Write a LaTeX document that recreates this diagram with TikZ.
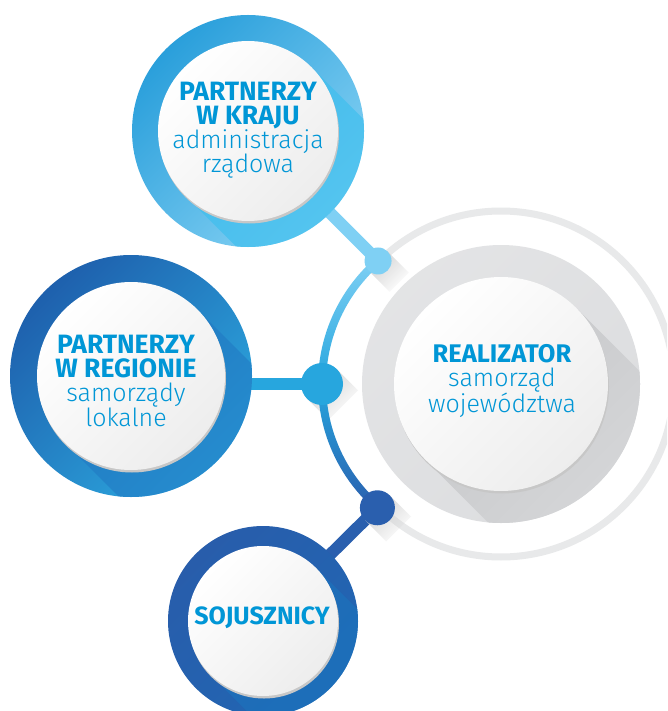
\documentclass[tikz,border=0pt]{standalone}
\usepackage{fontspec}
\setmainfont{Fira Sans}
\newfontfamily\thinfont{Fira Sans Light}
\usetikzlibrary{calc, fadings}

\definecolor{txtblue}{HTML}{0096D6}
\definecolor{krajDark}{HTML}{2A9FDB}
\definecolor{krajLight}{HTML}{86D2F4}
\definecolor{krajBand}{HTML}{3FBFEE}
\definecolor{regDark}{HTML}{1E60AD}
\definecolor{regLight}{HTML}{2CA8DF}
\definecolor{regBand}{HTML}{2179C3}
\definecolor{sojDark}{HTML}{285DAB}
\definecolor{sojLight}{HTML}{2166B3}
\definecolor{sojBand}{HTML}{1B74BE}
\definecolor{greyRing}{HTML}{DCDDDF}
\definecolor{greyBand}{HTML}{C6C7C9}
\definecolor{thinRing}{HTML}{E8E9EA}
\definecolor{arcTop}{HTML}{7FD0F4}
\definecolor{arcMid}{HTML}{27A6DE}
\definecolor{arcBot}{HTML}{2A5FAE}

\pgfdeclarelayer{bg}
\pgfdeclarelayer{links}
\pgfsetlayers{bg,links,main}

\begin{document}
\begin{tikzpicture}[x=1pt, y=-1pt,
    ringdisc/.style = {circle, inner sep=0pt, draw=none},
    face/.style = {circle, inner sep=0pt, top color=white, bottom color=black!7, shading angle=45},
    rim/.style = {fill=black!22},
    words/.style = {text=txtblue, align=center, font=\fontsize{25}{24}\selectfont},
    heavy/.style = {font=\fontsize{25}{24}\selectfont\bfseries},
    hubdot/.style = {circle, inner sep=0pt},
    link/.style = {line width=12pt},
    dotshadow/.style = {fill=black!18, path fading=south, fading angle=45}]

  \begin{pgfonlayer}{bg}
    \fill[white] (0,0) rectangle (667,711);
  \end{pgfonlayer}
  \useasboundingbox (0,0) rectangle (667,711);
  \clip (0,0) rectangle (667,711);

  % realizator
  \node[ringdisc, minimum size=278pt, top color=greyRing!80, bottom color=greyRing, shading angle=45] (real) at (501,384) {};
  \begin{scope}
    \clip (real) circle (139);
    \shade[top color=greyBand, bottom color=greyRing, shading angle=45]
      ($(real)+(-45:107)$) -- ($(real)+(135:107)$) -- ++(45:200) -- ($(real)+(-45:107)+(45:200)$) -- cycle;
  \end{scope}
  \fill[rim] ($(real)+(1,2.5)$) circle (107);
  \node[face, minimum size=214pt] (realface) at (real) {};
  \node[words] (realtxt) at (502,381) {{\fontsize{25.5}{24}\selectfont\bfseries REALIZATOR}\\{\thinfont samorząd}\\{\thinfont województwa}};
  \draw[thinRing, line width=7pt] ($(real)+(-134:173)$) arc[start angle=-134, end angle=134, radius=173];

  % hub arc and dots
  \coordinate (hub) at (485,384);
  \coordinate (p1) at ($(hub)+(229:163)$);
  \coordinate (p2) at ($(hub)+(180:163)$);
  \coordinate (p3) at ($(hub)+(131:164)$);
  \foreach \p/\r in {p1/13.5, p2/21, p3/17.5}
    \fill[dotshadow] ($(\p)+(-45:\r)$) -- ($(\p)+(135:\r)$) -- ++(45:30) -- ($(\p)+(-45:\r)+(45:30)$) -- cycle;
  \shade[top color=arcTop, bottom color=arcBot, middle color=arcMid]
    ($(hub)+(131:167)$) arc[start angle=131, end angle=229, radius=167]
    -- ($(hub)+(229:159)$) arc[start angle=229, end angle=131, radius=159] -- cycle;

  % partnerzy w kraju
  \node[ringdisc, minimum size=232pt, top color=krajDark, bottom color=krajLight, shading angle=45] (kraj) at (248,131) {};
  \begin{scope}
    \clip (kraj) circle (116);
    \fill[krajBand, opacity=.7]
      ($(kraj)+(-45:90)$) -- ($(kraj)+(135:90)$) -- ++(45:200) -- ($(kraj)+(-45:90)+(45:200)$) -- cycle;
  \end{scope}
  \fill[rim] ($(kraj)+(1,2.5)$) circle (90);
  \node[face, minimum size=180pt] (krajface) at (kraj) {};
  \node[words] (krajtxt) at (248,130) {{\fontsize{26.5}{24}\selectfont\bfseries PARTNERZY}\\{\fontsize{26.5}{24}\selectfont\bfseries W KRAJU}\\{\thinfont administracja}\\{\thinfont rządowa}};

  % partnerzy w regionie
  \node[ringdisc, minimum size=242pt, top color=regDark, bottom color=regLight, shading angle=45] (region) at (131,376) {};
  \begin{scope}
    \clip (region) circle (121);
    \fill[regBand, opacity=.6]
      ($(region)+(-45:94)$) -- ($(region)+(135:94)$) -- ++(45:200) -- ($(region)+(-45:94)+(45:200)$) -- cycle;
  \end{scope}
  \fill[rim] ($(region)+(1,2.5)$) circle (94);
  \node[face, minimum size=188pt] (regionface) at (region) {};
  \node[words] (regiontxt) at (126,381) {{\fontsize{26.5}{24}\selectfont\bfseries PARTNERZY}\\{\fontsize{26.5}{24}\selectfont\bfseries W REGIONIE}\\{\thinfont samorządy}\\{\thinfont lokalne}};

  % sojusznicy
  \node[ringdisc, minimum size=190pt, top color=sojDark, bottom color=sojLight, shading angle=45] (soj) at (263,621) {};
  \begin{scope}
    \clip (soj) circle (95);
    \fill[sojBand, opacity=.6]
      ($(soj)+(-45:75)$) -- ($(soj)+(135:75)$) -- ++(45:200) -- ($(soj)+(-45:75)+(45:200)$) -- cycle;
  \end{scope}
  \fill[rim] ($(soj)+(1,2.5)$) circle (75);
  \node[face, minimum size=150pt] (sojface) at (soj) {};
  \node[words, heavy] (sojtxt) at (262,618) {SOJUSZNICY};

  % dots
  \node[hubdot, fill=arcTop, minimum size=27pt] (d1) at (p1) {};
  \node[hubdot, fill=arcMid, minimum size=42pt] (d2) at (p2) {};
  \node[hubdot, fill=arcBot, minimum size=35pt] (d3) at (p3) {};

  \begin{pgfonlayer}{links}
    \draw[link, arcTop] (kraj.center) -- (d1.center);
    \draw[link, arcMid] (d2.center) -- (d2.center -| region.center);
    \draw[link, arcBot] (soj.center) -- (d3.center);
  \end{pgfonlayer}
\end{tikzpicture}
\end{document}
